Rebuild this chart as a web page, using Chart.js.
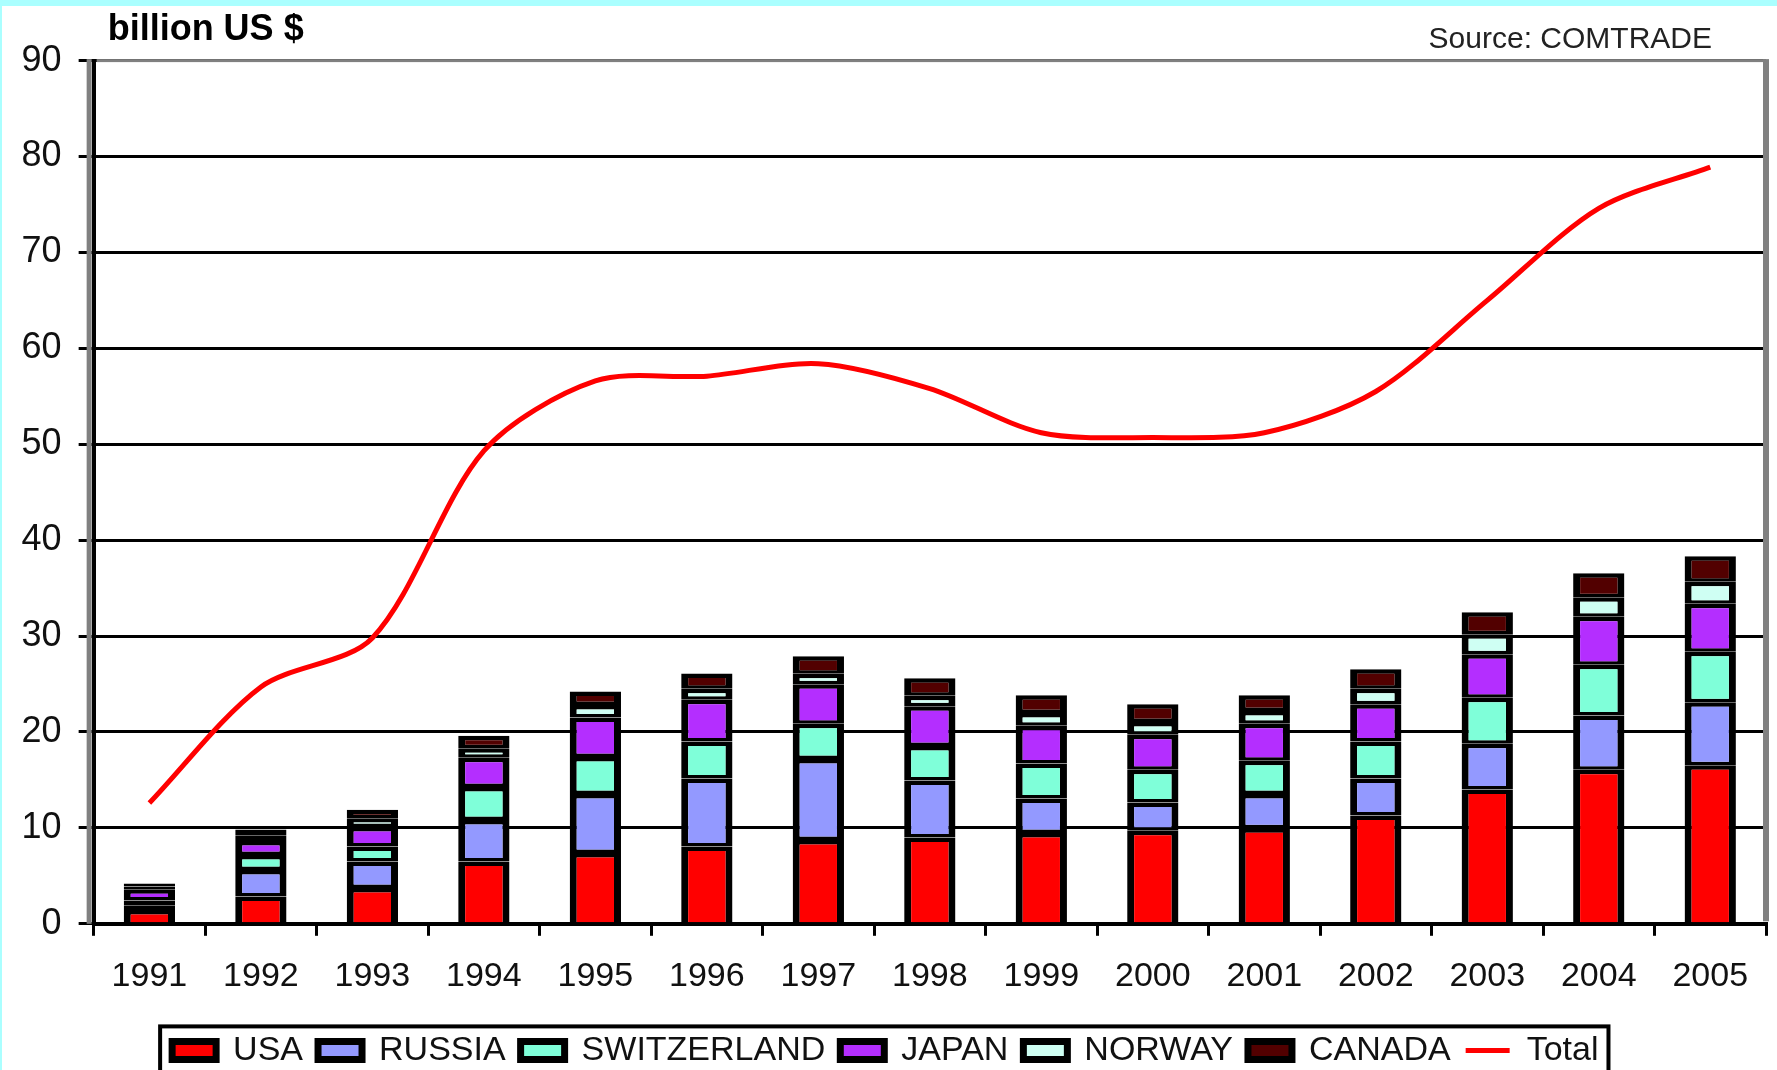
<!DOCTYPE html>
<html>
<head>
<meta charset="utf-8">
<script src="https://cdn.jsdelivr.net/npm/chart.js@4/dist/chart.umd.min.js"></script>
<style>
  html, body { margin: 0; padding: 0; background: #ffffff; }
  #wrap { width: 1777px; height: 1070px; position: relative; }
  canvas { display: block; }
</style>
</head>
<body>
<div id="wrap"><canvas id="c" width="1777" height="1070"></canvas></div>
<script>
// ---- data (billion US $) ----
const years = ['1991','1992','1993','1994','1995','1996','1997','1998','1999','2000','2001','2002','2003','2004','2005'];
const usa         = [1.44, 2.85, 3.73, 6.50, 7.39, 8.06, 8.74, 9.00, 9.47, 9.70, 9.96, 11.30, 14.01, 16.05, 16.52];
const russia      = [0.50, 2.76, 2.77, 4.33, 6.15, 7.10, 8.45, 5.95, 3.60, 2.96, 3.58, 3.86, 4.75, 5.68, 6.57];
const switzerland = [0.50, 1.57, 1.56, 3.44, 3.86, 3.86, 3.66, 3.60, 3.65, 3.39, 3.45, 3.86, 4.80, 5.27, 5.27];
const japan       = [1.15, 1.46, 2.04, 3.03, 4.12, 4.33, 4.12, 4.12, 3.92, 3.65, 3.86, 3.86, 4.54, 5.01, 5.01];
const norway      = [0.30, 0.60, 0.90, 1.00, 1.30, 1.15, 1.09, 1.10, 1.35, 1.35, 1.35, 1.62, 2.08, 2.03, 2.29];
const canada      = [0.30, 0.60, 0.90, 1.30, 1.40, 1.61, 1.83, 1.82, 1.83, 1.83, 1.62, 2.03, 2.30, 2.50, 2.66];
const total       = [12.6, 24.7, 29.8, 49.3, 56.6, 57.1, 58.4, 55.8, 51.2, 50.7, 51.2, 55.5, 65.0, 74.6, 78.9];
const yTicks      = [0, 10, 20, 30, 40, 50, 60, 70, 80, 90];
const unitLabel   = 'billion US $';
const sourceLabel = 'Source: COMTRADE';

const FONT = '"Liberation Sans", Arial, sans-serif';
const segBorder = { top: 4.5, bottom: 3.5, left: 7, right: 7 };

function barSet(label, data, color, skipped) {
  return {
    type: 'bar', label, data,
    backgroundColor: color,
    borderColor: '#000000',
    borderWidth: segBorder,
    borderSkipped: skipped,
    stack: 'countries',
    categoryPercentage: 1.0,
    barPercentage: 0.46
  };
}

const framePlugin = {
  id: 'frame',
  afterDraw(chart) {
    const { ctx, chartArea: a, width, height } = chart;
    ctx.save();
    // outer cyan frame strips
    ctx.fillStyle = '#AAFFFF';
    ctx.fillRect(0, 0, width, 6);
    ctx.fillRect(0, 0, 2, height);
    // gray plot frame
    ctx.fillStyle = '#808080';
    ctx.fillRect(a.left - 7, a.top - 1.5, 5, a.bottom - a.top + 1.5);
    ctx.fillRect(a.left + 3, a.top - 1.5, a.right - a.left - 3, 3);
    ctx.fillRect(a.right - 3, a.top - 1.5, 6, a.bottom - a.top - 1);
    // texts
    ctx.fillStyle = '#000';
    ctx.font = 'bold 36px ' + FONT;
    ctx.textAlign = 'left';
    ctx.textBaseline = 'alphabetic';
    ctx.fillText(unitLabel, a.left + 14, 40);
    ctx.fillStyle = '#222';
    ctx.font = '30px ' + FONT;
    ctx.textAlign = 'right';
    ctx.fillText(sourceLabel, a.right - 54, 48);
    // legend frame
    const lg = chart.legend;
    if (lg && lg.legendHitBoxes && lg.legendHitBoxes.length) {
      const hb = lg.legendHitBoxes;
      const first = hb[0], last = hb[hb.length - 1];
      const cy = first.top + first.height / 2;
      ctx.strokeStyle = '#000';
      ctx.lineWidth = 4;
      ctx.strokeRect(first.left - 12, cy - 24, (last.left + last.width + 10) - (first.left - 12), height);
    }
    ctx.restore();
  }
};

new Chart(document.getElementById('c'), {
  data: {
    labels: years,
    datasets: [
      barSet('USA', usa, '#FF0000', 'start'),
      barSet('RUSSIA', russia, '#9399FF', false),
      barSet('SWITZERLAND', switzerland, '#7FFFD9', false),
      barSet('JAPAN', japan, '#B42EFF', false),
      barSet('NORWAY', norway, '#CFFFF3', false),
      barSet('CANADA', canada, '#520000', false),
      {
        type: 'line', label: 'Total', data: total,
        borderColor: '#FF0000', backgroundColor: '#FF0000',
        borderWidth: 5, pointRadius: 0, tension: 0.3, fill: false,
        stack: 'total'
      }
    ]
  },
  options: {
    responsive: false,
    animation: false,
    devicePixelRatio: 1,
    layout: { padding: { top: 60.6, left: 4.6, right: 11, bottom: -7.4 } },
    plugins: {
      tooltip: { enabled: false },
      title: { display: false },
      legend: {
        display: true,
        position: 'bottom',
        align: 'center',
        labels: {
          usePointStyle: true,
          pointStyleWidth: 44,
          boxWidth: 44,
          boxHeight: 18,
          padding: 15,
          color: '#111',
          font: { family: FONT, size: 34 },
          generateLabels(chart) {
            const items = Chart.defaults.plugins.legend.labels.generateLabels(chart);
            items.forEach(it => {
              const ds = chart.data.datasets[it.datasetIndex];
              if (ds.type === 'line') {
                it.pointStyle = 'line';
                it.strokeStyle = '#FF0000';
                it.lineWidth = 5;
              } else {
                it.pointStyle = 'rect';
                it.strokeStyle = '#000000';
                it.lineWidth = 7;
              }
            });
            return items;
          }
        }
      }
    },
    scales: {
      x: {
        stacked: true,
        offset: true,
        grid: { display: true, drawOnChartArea: false, drawTicks: true, tickLength: 12, color: '#000', lineWidth: 3, offset: true },
        border: { display: true, color: '#000', width: 4 },
        ticks: { color: '#111', font: { family: FONT, size: 34, lineHeight: 0.9 }, padding: 26, maxRotation: 0, autoSkip: false }
      },
      y: {
        stacked: true,
        min: yTicks[0],
        max: yTicks[yTicks.length - 1],
        afterBuildTicks(scale) { scale.ticks = yTicks.map(v => ({ value: v })); },
        grid: { color: '#000', lineWidth: 3, tickLength: 15, drawTicks: true },
        border: { display: true, color: '#000', width: 4 },
        ticks: { color: '#111', font: { family: FONT, size: 36 }, padding: 17 }
      }
    }
  },
  plugins: [framePlugin]
});
</script>
</body>
</html>
